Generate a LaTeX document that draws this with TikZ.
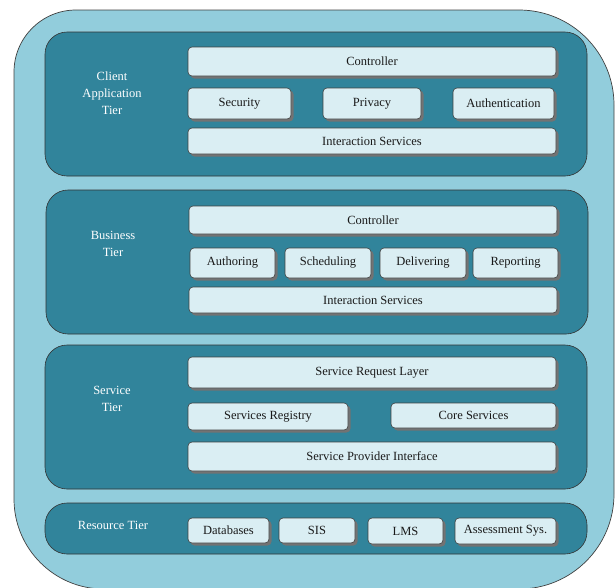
\documentclass[tikz,border=0pt]{standalone}
\usepackage{fontspec}
\setmainfont{Liberation Serif}
\usetikzlibrary{shadows}
\definecolor{outerfill}{HTML}{92CDDC}
\definecolor{panelfill}{HTML}{31849B}
\definecolor{boxfill}{HTML}{DAEEF3}
\newcommand\bx[6]{\node[box, minimum width={(#4)-(#2)}, minimum height={(#5)-(#3)}] (#1) at ({((#2)+(#4))/2},{((#3)+(#5))/2}) {#6};}
\newcommand\pn[5]{\node[panel, minimum width={(#4)-(#2)}, minimum height={(#5)-(#3)}] (#1) at ({((#2)+(#4))/2},{((#3)+(#5))/2}) {};}
\begin{document}
\begin{tikzpicture}[x=1pt,y=-1pt,
  box/.style={draw=black!75, line width=0.6pt, fill=boxfill, rounded corners=4pt, inner sep=0pt,
    drop shadow={shadow xshift=2.5pt, shadow yshift=-2.5pt, fill=black!55, opacity=1},
    font=\fontsize{12.5}{14}\selectfont, text=black!90},
  panel/.style={draw=black!80, line width=0.6pt, fill=panelfill, rounded corners=22pt, inner sep=0pt},
  lab/.style={text=white, align=center, font=\fontsize{12.5}{17}\selectfont}]
\useasboundingbox (0,0) rectangle (615,587);
\begin{scope}
\clip (0,0) rectangle (615,587);
\draw[fill=outerfill, draw=black!75, line width=0.7pt]
  (14,300) [rounded corners=62pt] -- (14,10) -- (300,10)
  [rounded corners=95pt] -- (614,10) -- (614,300)
  [rounded corners=95pt] -- (614,589) -- (300,589)
  [rounded corners=90pt] -- (14,589) -- (14,300) -- cycle;
\end{scope}
% Client tier
\pn{pc}{45}{32}{587}{176}
\node[lab] (lc) at (112,93) {Client\\Application\\Tier};
\bx{cctrl}{188}{47}{556}{76}{Controller}
\bx{csec}{188}{88}{291}{119}{Security}
\bx{cpriv}{323}{88}{421}{119}{Privacy}
\bx{cauth}{453}{88}{554}{119}{Authentication}
\bx{cint}{188}{128}{556}{154}{Interaction Services}
% Business tier
\pn{pb}{46}{190}{588}{334}
\node[lab] (lb) at (113,243.5) {Business\\Tier};
\bx{bctrl}{189}{206}{557}{234}{Controller}
\bx{baut}{190}{248}{275}{278}{Authoring}
\bx{bsch}{285}{248}{371}{278}{Scheduling}
\bx{bdel}{380}{248}{466}{278}{Delivering}
\bx{brep}{473}{248}{558}{278}{Reporting}
\bx{bint}{189}{287}{557}{313}{Interaction Services}
% Service tier
\pn{ps}{45}{345}{587}{489}
\node[lab] (ls) at (112,399) {Service\\Tier};
\bx{srl}{188}{357}{556}{388}{Service Request Layer}
\bx{sreg}{188}{403}{348}{430}{Services Registry}
\bx{score}{391}{403}{556}{428}{Core Services}
\bx{spi}{188}{442}{556}{471}{Service Provider Interface}
% Resource tier
\pn{pr}{45}{503}{587}{554}
\node[lab] (lr) at (113,525) {Resource Tier};
\bx{rdb}{188}{518}{269}{543}{Databases}
\bx{rsis}{279}{518}{355}{543}{SIS}
\bx{rlms}{368}{518}{443}{544}{LMS}
\bx{rass}{455}{518}{556}{544}{Assessment Sys.}
\end{tikzpicture}
\end{document}
